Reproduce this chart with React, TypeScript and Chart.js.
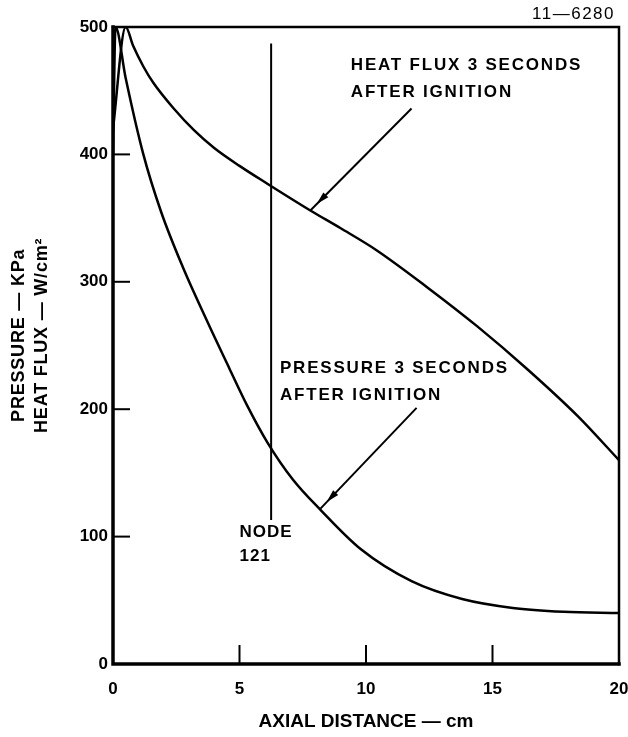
import React, { useEffect, useRef } from "react";
import { Chart, registerables } from "chart.js";

Chart.register(...registerables);

// ---- data ----
const HEAT_X = [0, 0.5, 0.8, 1.2, 1.6, 2.4, 3.2, 4.0, 5.0, 6.1, 7.8, 9.0, 10.4, 12.4, 14.4, 16.4, 18.4, 20];
const HEAT_Y = [420, 500, 485, 469, 456, 436, 419, 405, 391, 377, 356, 342, 325, 296, 265, 231, 194, 160];

const PRES_X = [0, 0.1, 0.5, 1.2, 1.9, 2.75, 3.7, 4.6, 5.3, 6.1, 7.1, 8.2, 9.8, 11.8, 13.8, 15.8, 17.8, 20];
const PRES_Y = [400, 500, 460, 400, 355, 312, 270, 232, 203, 174, 145, 121, 90, 65, 51, 44, 41, 40];

const X_TICKS = [0, 5, 10, 15, 20];
const Y_TICKS = [0, 100, 200, 300, 400, 500];

const X_TITLE = "AXIAL DISTANCE \u2014 cm";
const Y_TITLE = ["PRESSURE \u2014 KPa", "HEAT FLUX \u2014 W/cm\u00B2"];
const Y_TITLE_CENTER = 258; // value-axis position of the title's centre
const FIGURE_ID = "11\u20146280";

// node marker (data units)
const NODE_X = 6.25;
const NODE_RANGE = [113, 487];
const NODE_LABEL = ["NODE", "121"];
const NODE_LABEL_AT = [5.0, 103];

// annotations (data units)
const HEAT_LABEL = ["HEAT FLUX 3 SECONDS", "AFTER IGNITION"];
const HEAT_LABEL_AT = [9.4, 470];
const HEAT_ARROW = [[11.8, 436], [7.8, 356]];

const PRES_LABEL = ["PRESSURE 3 SECONDS", "AFTER IGNITION"];
const PRES_LABEL_AT = [6.6, 232];
const PRES_ARROW = [[12.0, 201], [8.2, 122]];

const FONT = "'Liberation Sans', Arial, Helvetica, sans-serif";

export default function App() {
  const ref = useRef<HTMLCanvasElement>(null);

  useEffect(() => {
    document.body.style.margin = "0";
    const canvas = ref.current;
    if (!canvas) return;

    const decor = {
      id: "decor",
      afterDatasetsDraw(chart: any) {
        const { ctx, chartArea: a, scales } = chart;
        const xs = scales.x;
        const ys = scales.y;
        const px = (v: number) => xs.getPixelForValue(v);
        const py = (v: number) => ys.getPixelForValue(v);
        ctx.save();
        ctx.strokeStyle = "#000";
        ctx.fillStyle = "#000";
        ctx.lineCap = "square";

        // frame
        ctx.lineWidth = 3.5;
        ctx.beginPath();
        ctx.moveTo(a.left, a.top);
        ctx.lineTo(a.left, a.bottom);
        ctx.lineTo(a.right, a.bottom);
        ctx.stroke();
        ctx.lineWidth = 2.5;
        ctx.beginPath();
        ctx.moveTo(a.left, a.top);
        ctx.lineTo(a.right, a.top);
        ctx.lineTo(a.right, a.bottom);
        ctx.stroke();

        // inside ticks
        ctx.lineWidth = 2;
        ctx.lineCap = "butt";
        Y_TICKS.slice(1, -1).forEach((t) => {
          ctx.beginPath();
          ctx.moveTo(a.left, py(t));
          ctx.lineTo(a.left + 17, py(t));
          ctx.stroke();
        });
        X_TICKS.slice(1, -1).forEach((t) => {
          ctx.beginPath();
          ctx.moveTo(px(t), a.bottom);
          ctx.lineTo(px(t), a.bottom - 19);
          ctx.stroke();
        });

        // y title (two rotated lines)
        ctx.save();
        ctx.font = `bold 18px ${FONT}`;
        (ctx as any).letterSpacing = "0.8px";
        ctx.textAlign = "center";
        ctx.textBaseline = "middle";
        Y_TITLE.forEach((s, i) => {
          ctx.save();
          ctx.translate(19 + i * 23, py(Y_TITLE_CENTER));
          ctx.rotate(-Math.PI / 2);
          ctx.fillText(s, 0, 0);
          ctx.restore();
        });
        ctx.restore();

        // node line
        ctx.lineWidth = 2;
        ctx.beginPath();
        ctx.moveTo(px(NODE_X), py(NODE_RANGE[0]));
        ctx.lineTo(px(NODE_X), py(NODE_RANGE[1]));
        ctx.stroke();

        ctx.font = `bold 17px ${FONT}`;
        (ctx as any).letterSpacing = "1px";
        ctx.textAlign = "left";
        ctx.textBaseline = "middle";
        NODE_LABEL.forEach((s, i) => {
          ctx.fillText(s, px(NODE_LABEL_AT[0]), py(NODE_LABEL_AT[1]) + i * 24);
        });

        const drawAnno = (lines: string[], at: number[], arrow: number[][]) => {
          ctx.font = `bold 17px ${FONT}`;
          (ctx as any).letterSpacing = "1.8px";
          ctx.textAlign = "left";
          ctx.textBaseline = "middle";
          lines.forEach((s, i) => ctx.fillText(s, px(at[0]), py(at[1]) + i * 27));
          const x0 = px(arrow[0][0]), y0 = py(arrow[0][1]);
          const x1 = px(arrow[1][0]), y1 = py(arrow[1][1]);
          ctx.lineWidth = 2;
          ctx.beginPath();
          ctx.moveTo(x0, y0);
          ctx.lineTo(x1, y1);
          ctx.stroke();
          const len = Math.hypot(x1 - x0, y1 - y0);
          const dx = (x1 - x0) / len, dy = (y1 - y0) / len;
          const tx = x1 - dx * 9, ty = y1 - dy * 9;
          const bx = tx - dx * 13, by = ty - dy * 13;
          ctx.beginPath();
          ctx.moveTo(tx, ty);
          ctx.lineTo(bx - dy * 3.5, by + dx * 3.5);
          ctx.lineTo(bx + dy * 3.5, by - dx * 3.5);
          ctx.closePath();
          ctx.fill();
        };
        drawAnno(HEAT_LABEL, HEAT_LABEL_AT, HEAT_ARROW);
        drawAnno(PRES_LABEL, PRES_LABEL_AT, PRES_ARROW);

        // figure id
        ctx.font = `17px ${FONT}`;
        (ctx as any).letterSpacing = "1.5px";
        ctx.textAlign = "right";
        ctx.textBaseline = "middle";
        ctx.fillText(FIGURE_ID, a.right - 4, a.top - 13);

        ctx.restore();
      },
    };

    const toPts = (xs: number[], ys: number[]) => xs.map((v, i) => ({ x: v, y: ys[i] }));

    const chart = new Chart(canvas, {
      type: "line",
      data: {
        datasets: [
          {
            label: "Heat flux",
            data: toPts(HEAT_X, HEAT_Y),
            borderColor: "#000",
            borderWidth: 2.5,
            pointRadius: 0,
            fill: false,
            cubicInterpolationMode: "monotone",
          },
          {
            label: "Pressure",
            data: toPts(PRES_X, PRES_Y),
            borderColor: "#000",
            borderWidth: 2.5,
            pointRadius: 0,
            fill: false,
            cubicInterpolationMode: "monotone",
          },
        ],
      },
      options: {
        animation: false,
        responsive: false,
        maintainAspectRatio: false,
        layout: { padding: { top: 27, right: 9, left: 0, bottom: 0 } },
        plugins: { legend: { display: false }, tooltip: { enabled: false } },
        scales: {
          x: {
            type: "linear",
            min: 0,
            max: 20,
            afterBuildTicks: (s: any) => {
              s.ticks = X_TICKS.map((v) => ({ value: v }));
            },
            ticks: {
              color: "#000",
              padding: 15,
              maxRotation: 0,
              font: { family: FONT, size: 17, weight: "bold" },
            },
            grid: { drawOnChartArea: false, drawTicks: false, display: false },
            border: { display: false },
            title: {
              display: true,
              text: X_TITLE,
              color: "#000",
              font: { family: FONT, size: 19, weight: "bold" },
              padding: { top: 4, bottom: 4 },
            },
            afterFit: (s: any) => {
              s.height = 73;
              s.paddingLeft = 0;
              s.paddingRight = 0;
            },
          },
          y: {
            type: "linear",
            min: 0,
            max: 500,
            afterBuildTicks: (s: any) => {
              s.ticks = Y_TICKS.map((v) => ({ value: v }));
            },
            ticks: {
              color: "#000",
              padding: 5,
              font: { family: FONT, size: 17, weight: "bold" },
            },
            grid: { drawOnChartArea: false, drawTicks: false, display: false },
            border: { display: false },
            title: { display: false },
            afterFit: (s: any) => {
              s.width = 113;
              s.paddingTop = 0;
              s.paddingBottom = 0;
            },
          },
        },
      },
      plugins: [decor],
    } as any);

    return () => chart.destroy();
  }, []);

  return (
    <div style={{ position: "absolute", left: 0, top: 0, width: 628, height: 737 }}>
      <canvas ref={ref} width={628} height={737} style={{ display: "block", width: 628, height: 737 }} />
    </div>
  );
}
